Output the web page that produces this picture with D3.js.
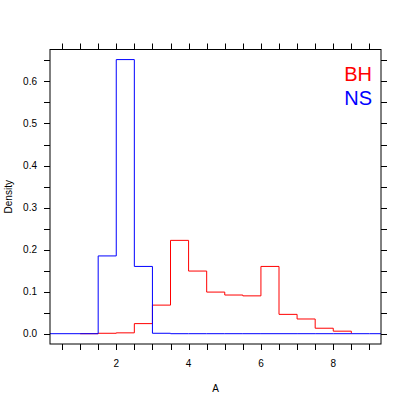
<!DOCTYPE html>
<html>
<head>
<meta charset="utf-8">
<script src="https://cdn.jsdelivr.net/npm/d3@7"></script>
<style>
  body { margin: 0; background: #fff; }
  text { font-family: "Liberation Sans", Arial, sans-serif; fill: #000; }
</style>
</head>
<body>
<div id="chart"></div>
<script>
// histogram bins (density), width 0.5
const bhBreaks = [1.0, 1.5, 2.0, 2.5, 3.0, 3.5, 4.0, 4.5, 5.0, 5.5, 6.0, 6.5, 7.0, 7.5, 8.0, 8.5];
const bhDensity = [0, 0.001, 0.002, 0.024, 0.068, 0.222, 0.149, 0.099, 0.092, 0.090, 0.160, 0.046, 0.035, 0.013, 0.006];

const nsBreaks = [0.0, 0.5, 1.0, 1.5, 2.0, 2.5, 3.0, 3.5, 4.0, 4.5, 5.0, 5.5, 6.0, 6.5, 7.0, 7.5, 8.0, 8.5, 9.0, 9.5];
const nsDensity = [0, 0, 0, 0.185, 0.652, 0.160, 0.001, 0, 0, 0, 0, 0, 0, 0, 0, 0, 0, 0, 0];

const xTicks = [0.5, 1, 1.5, 2, 2.5, 3, 3.5, 4, 4.5, 5, 5.5, 6, 6.5, 7, 7.5, 8, 8.5, 9];
const xLabels = [2, 4, 6, 8];
const yTicks = [0, 0.05, 0.1, 0.15, 0.2, 0.25, 0.3, 0.35, 0.4, 0.45, 0.5, 0.55, 0.6, 0.65];
const yLabels = [0, 0.1, 0.2, 0.3, 0.4, 0.5, 0.6];

const groups = ["BH", "NS"];
const colors = ["#ff0000", "#0000ff"];

const W = 407, H = 407;
const panel = {left: 50, right: 381, top: 49.5, bottom: 344};

const svg = d3.select("#chart").append("svg")
    .attr("width", W)
    .attr("height", H);

const x = d3.scaleLinear().domain([0.168, 9.32]).range([panel.left, panel.right]);
const y = d3.scaleLinear().domain([-0.0245, 0.676]).range([panel.bottom, panel.top]);

svg.append("clipPath").attr("id", "clip")
  .append("rect")
    .attr("x", panel.left).attr("y", panel.top)
    .attr("width", panel.right - panel.left)
    .attr("height", panel.bottom - panel.top);

// step lines
const step = d3.line()
    .x(d => x(d[0]))
    .y(d => y(d[1]))
    .curve(d3.curveStepAfter);

function pts(breaks, vals) {
  const p = vals.map((v, i) => [breaks[i], v]);
  p.push([breaks[breaks.length - 1], 0]);
  return p;
}

const g = svg.append("g").attr("clip-path", "url(#clip)");
g.append("path")
    .attr("d", step(pts(bhBreaks, bhDensity)))
    .attr("fill", "none")
    .attr("stroke", colors[0])
    .attr("stroke-width", 1);
g.append("path")
    .attr("d", step(pts(nsBreaks, nsDensity)))
    .attr("fill", "none")
    .attr("stroke", colors[1])
    .attr("stroke-width", 1);

// box
svg.append("rect")
    .attr("x", panel.left).attr("y", panel.top)
    .attr("width", panel.right - panel.left)
    .attr("height", panel.bottom - panel.top)
    .attr("fill", "none")
    .attr("stroke", "#000")
    .attr("stroke-width", 1);

const tl = 6;
// bottom + top ticks
xTicks.forEach(t => {
  const px = Math.round(x(t)) + 0.5;
  svg.append("line").attr("x1", px).attr("x2", px)
    .attr("y1", panel.bottom).attr("y2", panel.bottom + tl).attr("stroke", "#000");
  svg.append("line").attr("x1", px).attr("x2", px)
    .attr("y1", panel.top).attr("y2", panel.top - tl).attr("stroke", "#000");
});
xLabels.forEach(t => {
  svg.append("text")
    .attr("x", x(t)).attr("y", panel.bottom + 23)
    .attr("text-anchor", "middle")
    .attr("font-size", 10)
    .text(t);
});

// left + right ticks
yTicks.forEach(t => {
  const py = Math.round(y(t)) + 0.5;
  svg.append("line").attr("x1", panel.left).attr("x2", panel.left - tl)
    .attr("y1", py).attr("y2", py).attr("stroke", "#000");
  svg.append("line").attr("x1", panel.right).attr("x2", panel.right + tl)
    .attr("y1", py).attr("y2", py).attr("stroke", "#000");
});
yLabels.forEach(t => {
  svg.append("text")
    .attr("x", panel.left - 13).attr("y", y(t) + 3.5)
    .attr("text-anchor", "end")
    .attr("font-size", 10)
    .text(d3.format(".1f")(t));
});

// axis titles
svg.append("text")
    .attr("x", (panel.left + panel.right) / 2)
    .attr("y", 392)
    .attr("text-anchor", "middle")
    .attr("font-size", 10)
    .text("A");
svg.append("text")
    .attr("transform", `translate(12,${(panel.top + panel.bottom) / 2}) rotate(-90)`)
    .attr("text-anchor", "middle")
    .attr("font-size", 10)
    .text("Density");

// key
groups.forEach((k, i) => {
  svg.append("text")
    .attr("x", 372)
    .attr("y", 81 + i * 24)
    .attr("text-anchor", "end")
    .attr("font-size", 20)
    .style("fill", colors[i])
    .text(k);
});
</script>
</body>
</html>
